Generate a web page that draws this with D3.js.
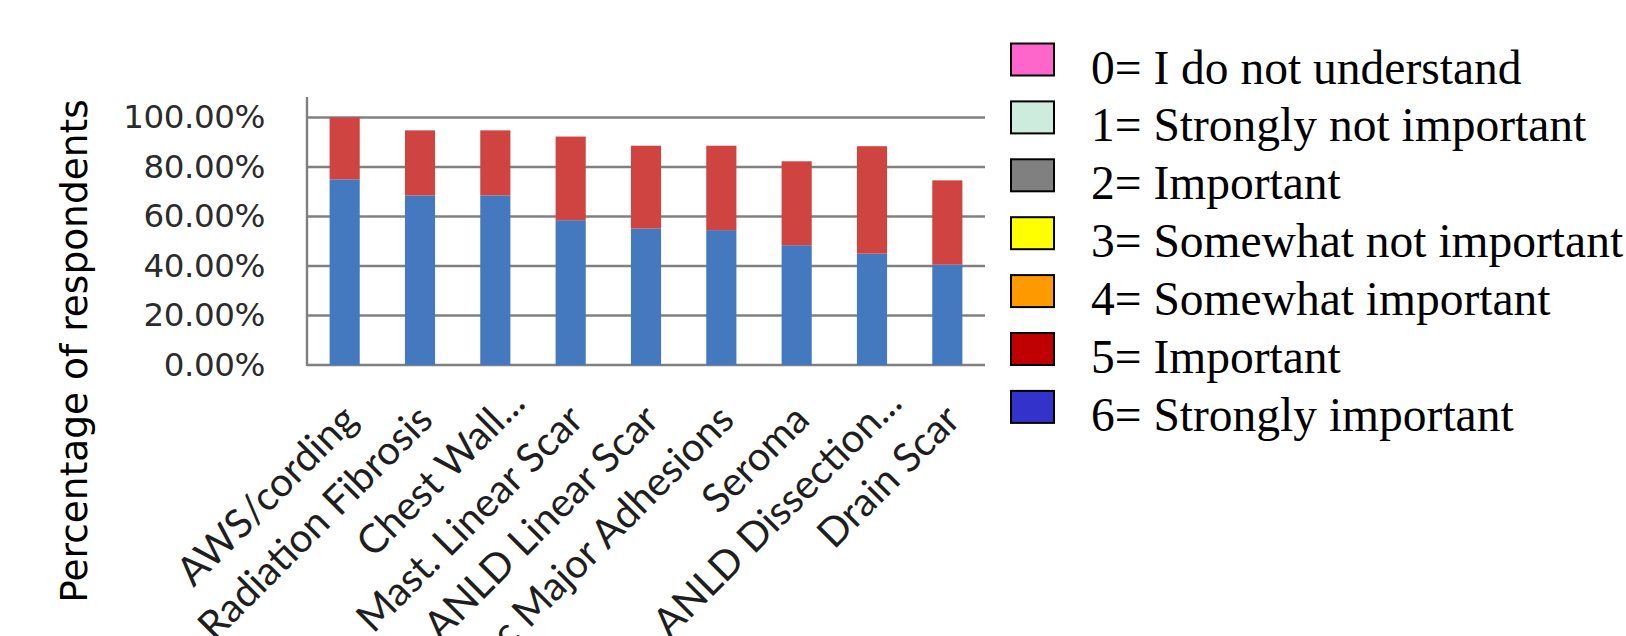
<!DOCTYPE html>
<html>
<head>
<meta charset="utf-8">
<script src="https://cdn.jsdelivr.net/npm/d3@7"></script>
<style>
  html, body { margin: 0; padding: 0; background: #ffffff; }
  svg { display: block; }
</style>
</head>
<body>
<svg id="chart" width="1626" height="636"></svg>
<script>
// Survey categories (x axis)
const categories = [
  "AWS/cording", "Radiation Fibrosis", "Chest Wall...", "Mast. Linear Scar",
  "ANLD Linear Scar", "Misc Major Adhesions", "Seroma", "ANLD Dissection...", "Drain Scar"
];
// Share of respondents (%) rating 6 = Strongly important
const stronglyImportant = [75.0, 68.5, 68.5, 58.5, 55.1, 54.5, 48.4, 45.0, 40.6];
// Share of respondents (%) rating 5 = Important
const important = [25.0, 26.3, 26.3, 33.8, 33.5, 34.1, 33.9, 43.4, 34.0];
// Y axis ticks (%)
const yTicks = [0, 20, 40, 60, 80, 100];
// Rating scale legend
const legendLabels = [
  "0= I do not understand", "1= Strongly not important", "2= Important",
  "3= Somewhat not important", "4= Somewhat important", "5= Important",
  "6= Strongly important"
];
const legendColors = ["#ff66cc", "#cdecdd", "#808080", "#ffff00", "#ff9900", "#c00000", "#3333cc"];

const seriesKeys = ["strong", "important"];
const seriesColors = { strong: "#4479c0", important: "#cf4340" };

const svg = d3.select("#chart");

const plot = { left: 307, right: 985, top: 97, bottom: 365 };

const x = d3.scaleBand()
  .domain(categories)
  .range([plot.left, plot.right])
  .paddingInner(0.6)
  .paddingOuter(0.3);

const y = d3.scaleLinear()
  .domain([0, 100])
  .range([plot.bottom, 117.5]);

const rows = categories.map((c, i) => ({
  category: c,
  strong: stronglyImportant[i],
  important: important[i]
}));

const stacked = d3.stack().keys(seriesKeys)(rows);

// Horizontal gridlines
svg.append("g")
  .selectAll("line")
  .data(yTicks)
  .join("line")
  .attr("x1", plot.left)
  .attr("x2", plot.right)
  .attr("y1", d => y(d))
  .attr("y2", d => y(d))
  .attr("stroke", "#808080")
  .attr("stroke-width", 2.4);

// Vertical axis line
svg.append("line")
  .attr("x1", plot.left).attr("x2", plot.left)
  .attr("y1", plot.top).attr("y2", plot.bottom + 1)
  .attr("stroke", "#808080")
  .attr("stroke-width", 2.4);

// Y tick labels
const yAxis = d3.axisLeft(y)
  .tickValues(yTicks)
  .tickSize(0)
  .tickPadding(42)
  .tickFormat(d => d3.format(".2f")(d) + "%");

const yg = svg.append("g")
  .attr("transform", `translate(${plot.left},0)`)
  .call(yAxis);
yg.select(".domain").remove();
yg.selectAll("text")
  .attr("font-family", "DejaVu Sans, Verdana, sans-serif")
  .attr("font-size", 32.5)
  .attr("letter-spacing", -0.4)
  .attr("fill", "#2b2b2b");

// Stacked bars
svg.append("g")
  .selectAll("g")
  .data(stacked)
  .join("g")
  .attr("fill", d => seriesColors[d.key])
  .selectAll("rect")
  .data(d => d)
  .join("rect")
  .attr("x", d => x(d.data.category))
  .attr("width", x.bandwidth())
  .attr("y", d => y(d[1]))
  .attr("height", d => y(d[0]) - y(d[1]));

// Category labels, rotated
svg.append("g")
  .selectAll("text")
  .data(categories)
  .join("text")
  .attr("transform", d => `translate(${x(d) + x.bandwidth() / 2 + 15},422) rotate(-45)`)
  .attr("dx", d => d.endsWith("...") ? 24 : 0)
  .attr("text-anchor", "end")
  .attr("font-family", "Lato, 'Open Sans', sans-serif")
  .attr("font-size", 40)
  .attr("fill", "#1e1e1e")
  .text(d => d);

// Y axis title
svg.append("text")
  .attr("transform", "translate(87,351) rotate(-90)")
  .attr("text-anchor", "middle")
  .attr("font-family", "DejaVu Sans, Verdana, sans-serif")
  .attr("font-size", 37.5)
  .attr("fill", "#000")
  .text("Percentage of respondents");

// Legend
const legend = svg.append("g")
  .selectAll("g")
  .data(legendLabels)
  .join("g")
  .attr("transform", (d, i) => `translate(0,${83.5 + i * 57.9})`);

legend.append("rect")
  .attr("x", 1011)
  .attr("y", -40)
  .attr("width", 43)
  .attr("height", 32)
  .attr("fill", (d, i) => legendColors[i])
  .attr("stroke", "#000")
  .attr("stroke-width", 2);

legend.append("text")
  .attr("x", 1091)
  .attr("y", 0)
  .attr("font-family", "'Liberation Serif', 'Times New Roman', serif")
  .attr("font-size", 47.5)
  .attr("fill", "#000")
  .text(d => d);
</script>
</body>
</html>
